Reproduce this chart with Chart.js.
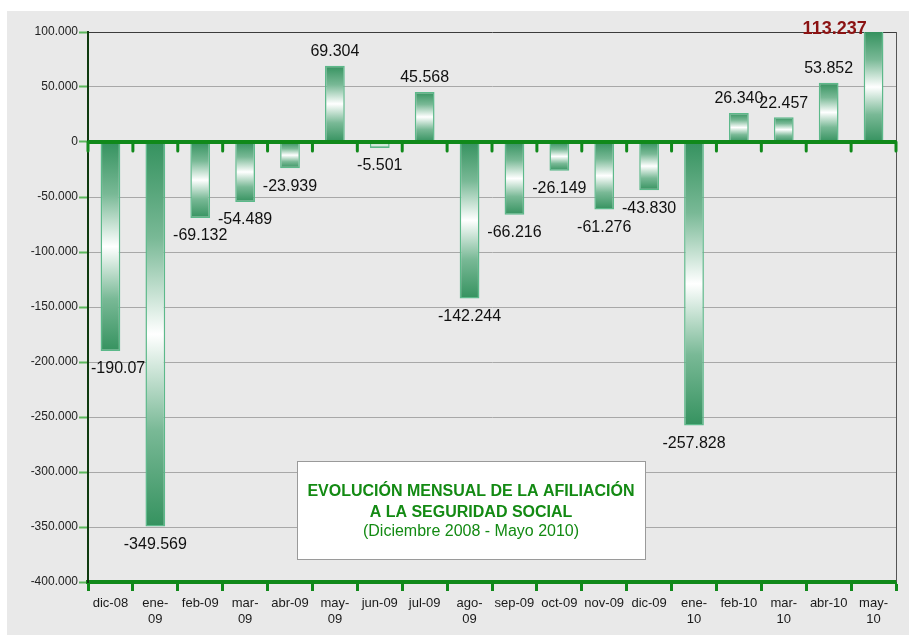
<!DOCTYPE html>
<html><head><meta charset="utf-8">
<script src="https://cdn.jsdelivr.net/npm/chart.js@4.4.1/dist/chart.umd.min.js"></script>
<style>html,body{margin:0;padding:0;background:#fff;overflow:hidden}canvas{display:block}</style>
</head><body>
<canvas id="c" width="909" height="635"></canvas>
<script>
// ---- data ----
const categories = ['dic-08','ene-09','feb-09','mar-09','abr-09','may-09','jun-09','jul-09','ago-09',
  'sep-09','oct-09','nov-09','dic-09','ene-10','feb-10','mar-10','abr-10','may-10'];
const tickLabels = [['dic-08'],['ene-','09'],['feb-09'],['mar-','09'],['abr-09'],['may-','09'],['jun-09'],['jul-09'],['ago-','09'],
  ['sep-09'],['oct-09'],['nov-09'],['dic-09'],['ene-','10'],['feb-10'],['mar-','10'],['abr-10'],['may-','10']];
const values = [-190070,-349569,-69132,-54489,-23939,69304,-5501,45568,-142244,
  -66216,-26149,-61276,-43830,-257828,26340,22457,53852,113237];
const yMin = -400000, yMax = 100000, yStep = 50000;
const title1 = 'EVOLUCIÓN MENSUAL DE LA AFILIACIÓN';
const title2 = 'A LA SEGURIDAD SOCIAL';
const subtitle = '(Diciembre 2008 - Mayo 2010)';

const fmt = v => (v < 0 ? '-' : '') + Math.abs(v).toString().replace(/\B(?=(\d{3})+(?!\d))/g, '.');
const valueLabels = values.map(fmt);
valueLabels[0] = '-190.07'; // truncated in the original

const FONT = '"Liberation Sans", Arial, sans-serif';
Chart.defaults.font.family = FONT;
const BAR_GREEN = '#35925f', BAR_MID = '#79b996', BAR_EDGE = '#5cb98a', AXIS_GREEN = '#10891a';

const bgPlugin = {
  id: 'bg',
  beforeDraw(chart) {
    const c = chart.ctx; c.save();
    c.fillStyle = '#fff'; c.fillRect(0, 0, chart.width, chart.height);
    c.fillStyle = '#e9e9e9'; c.fillRect(7, 11, chart.width - 7, chart.height - 11);
    c.restore();
  },
  beforeDatasetsDraw(chart) {
    const c = chart.ctx, a = chart.chartArea; c.save();
    c.strokeStyle = '#555'; c.lineWidth = 1;
    c.beginPath(); c.moveTo(Math.round(a.right) + 0.5, a.top); c.lineTo(Math.round(a.right) + 0.5, a.bottom); c.stroke();
    c.restore();
  }
};

const zeroPlugin = {
  id: 'zero',
  afterDatasetsDraw(chart) {
    const c = chart.ctx, a = chart.chartArea, xs = chart.scales.x, ys = chart.scales.y;
    const y0 = ys.getPixelForValue(0);
    c.save();
    c.strokeStyle = AXIS_GREEN; c.lineWidth = 4;
    c.beginPath(); c.moveTo(a.left, y0); c.lineTo(a.right, y0); c.stroke();
    c.lineWidth = 3; c.lineCap = 'round';
    const n = categories.length;
    c.beginPath();
    for (let i = 0; i <= n; i++) {
      const x = xs.left + xs.width * i / n;
      c.moveTo(x, y0); c.lineTo(x, y0 + 9);
    }
    c.stroke();
    // value labels
    const meta = chart.getDatasetMeta(0);
    c.textBaseline = 'middle';
    meta.data.forEach((bar, i) => {
      const v = values[i], text = valueLabels[i];
      if (v > ys.max) {
        c.font = 'bold 18px ' + FONT; c.fillStyle = '#8b1212'; c.textAlign = 'right';
        c.fillText(text, bar.x - bar.width / 2 + 3, a.top - 3);
        return;
      }
      c.font = '16px ' + FONT; c.fillStyle = '#111'; c.textAlign = 'center';
      const w = c.measureText(text).width;
      let x = bar.x;
      if (x - w / 2 < a.left + 3) x = a.left + 3 + w / 2;
      const y = v < 0 ? bar.y + 18 : bar.y - 14;
      c.fillText(text, x, y);
    });
    c.restore();
  },
  afterDraw(chart) {
    const c = chart.ctx; c.save();
    c.fillStyle = '#fff'; c.fillRect(297, 461, 348, 98);
    c.strokeStyle = '#9a9a9a'; c.lineWidth = 1; c.strokeRect(297.5, 461.5, 348, 98);
    c.fillStyle = '#138a13'; c.textAlign = 'center'; c.textBaseline = 'middle';
    c.font = 'bold 16px ' + FONT;
    c.fillText(title1, 471, 492);
    c.fillText(title2, 471, 513);
    c.font = '16px ' + FONT;
    c.fillText(subtitle, 471, 532);
    c.restore();
  }
};

function barGradient(ctx) {
  const chart = ctx.chart, a = chart.chartArea;
  if (!a || ctx.raw === undefined) return BAR_GREEN;
  const ys = chart.scales.y;
  const v = Math.max(Math.min(ctx.raw, ys.max), ys.min);
  const y0 = ys.getPixelForValue(0), y1 = ys.getPixelForValue(v);
  const top = Math.min(y0, y1), bot = Math.max(y0, y1);
  if (bot - top < 1) return BAR_GREEN;
  const g = chart.ctx.createLinearGradient(0, top, 0, bot);
  g.addColorStop(0, BAR_GREEN);
  g.addColorStop(0.25, BAR_MID);
  g.addColorStop(0.5, '#ffffff');
  g.addColorStop(0.75, BAR_MID);
  g.addColorStop(1, BAR_GREEN);
  return g;
}

new Chart(document.getElementById('c'), {
  type: 'bar',
  data: {
    labels: categories,
    datasets: [{
      data: values,
      backgroundColor: barGradient,
      borderColor: BAR_EDGE,
      borderWidth: 1.5,
      barPercentage: 0.44,
      categoryPercentage: 1,
      clip: 0
    }]
  },
  options: {
    responsive: false, animation: false, devicePixelRatio: 1,
    layout: { padding: { top: 32, right: 13, left: 0, bottom: 0 } },
    plugins: { legend: { display: false }, tooltip: { enabled: false }, title: { display: false } },
    scales: {
      x: {
        grid: { offset: true, drawOnChartArea: false, drawTicks: true, tickLength: 9, tickWidth: 3, tickColor: AXIS_GREEN },
        border: { display: true, color: AXIS_GREEN, width: 4 },
        ticks: {
          autoSkip: false, maxRotation: 0, minRotation: 0, padding: 3.5, color: '#1a1a1a',
          font: { size: 13, lineHeight: 1.3 },
          callback: (v, i) => tickLabels[i]
        },
        afterFit(s) { s.height = 53; }
      },
      y: {
        min: yMin, max: yMax,
        ticks: { stepSize: yStep, padding: 1, color: '#222', font: { size: 12 }, callback: v => fmt(v) },
        grid: {
          color: c => (c.tick && c.tick.value === yMax) ? '#3c3c3c' : '#a8a8a8',
          lineWidth: 1, tickLength: 9, tickWidth: 2, tickColor: '#5cb85c'
        },
        border: { color: '#0f3a0f', width: 2 },
        afterFit(s) { s.width = 88; }
      }
    }
  },
  plugins: [bgPlugin, zeroPlugin]
});
</script>
</body></html>
